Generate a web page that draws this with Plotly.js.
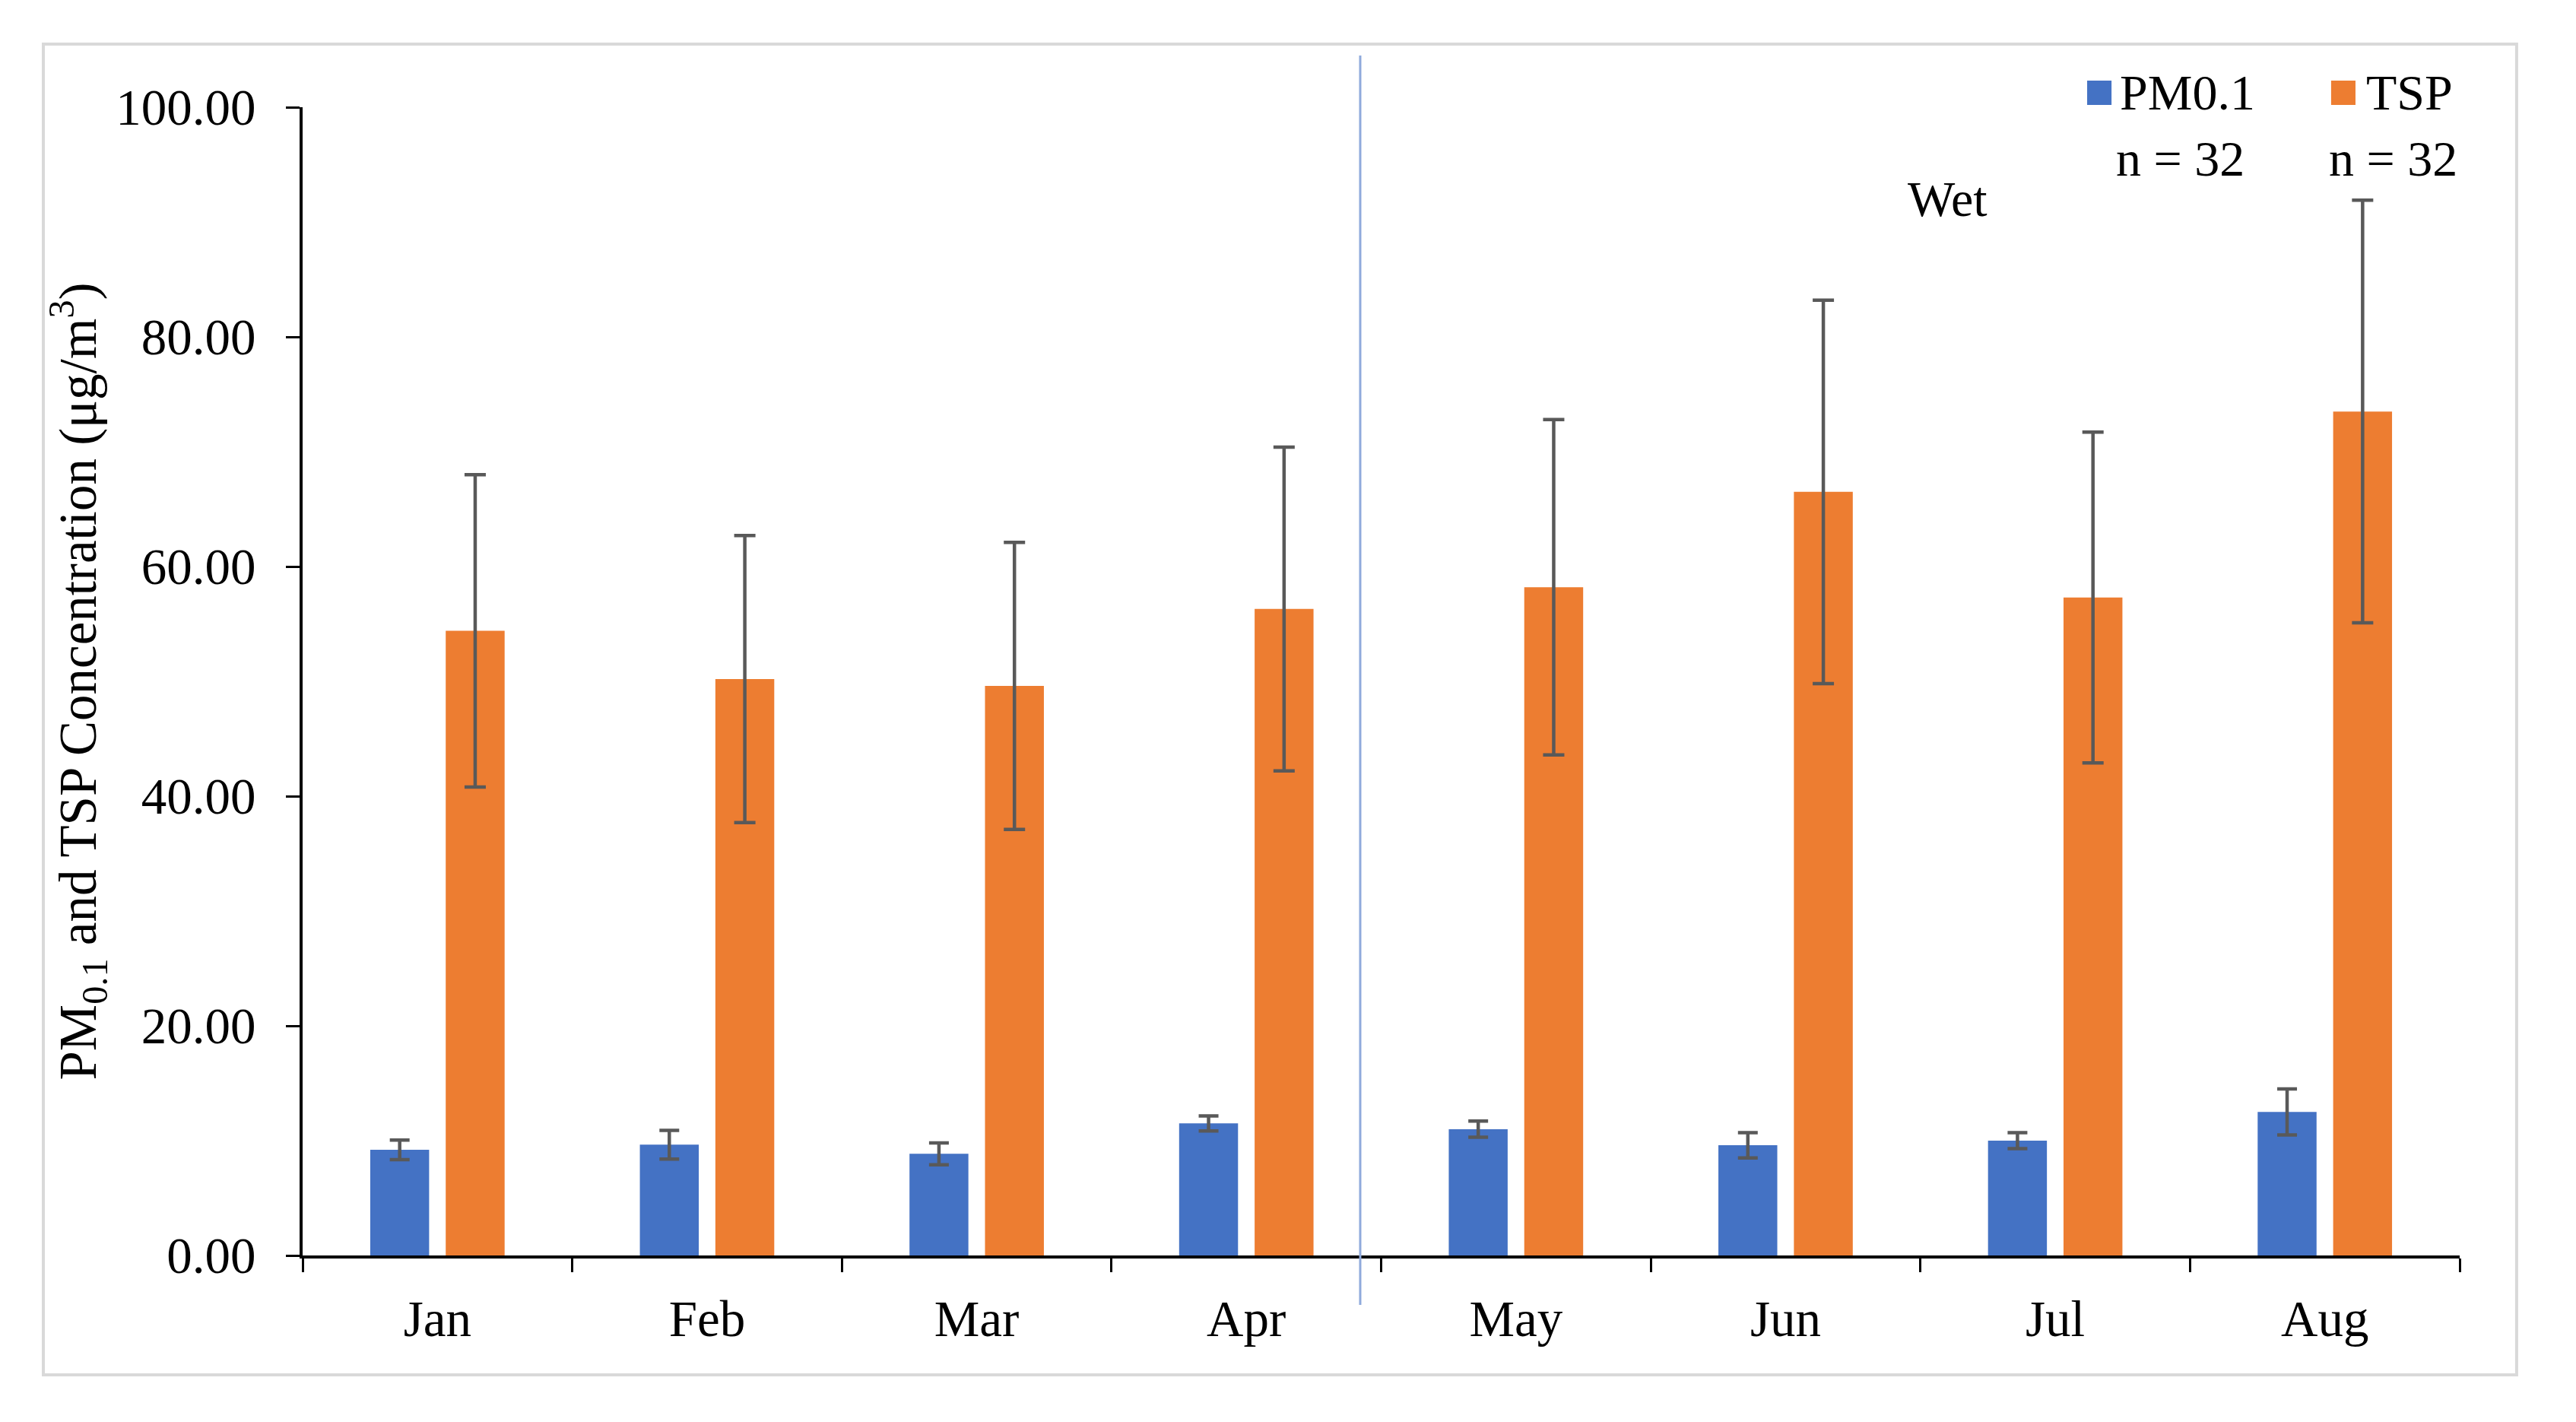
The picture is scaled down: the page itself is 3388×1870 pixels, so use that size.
<!DOCTYPE html>
<html>
<head>
<meta charset="utf-8">
<script src="https://cdn.plot.ly/plotly-3.0.1.min.js"></script>
<style>
  html, body { margin: 0; padding: 0; background: #ffffff; }
  #chart { width: 3388px; height: 1870px; }
</style>
</head>
<body>
<div id="chart"></div>
<script>
// ---- data ----
const months = ["Jan", "Feb", "Mar", "Apr", "May", "Jun", "Jul", "Aug"];
const pm01 = [9.2, 9.65, 8.85, 11.5, 11.0, 9.6, 10.0, 12.5];
const pm01Err = [0.85, 1.25, 0.95, 0.65, 0.7, 1.1, 0.7, 2.0];
const tsp = [54.4, 50.2, 49.6, 56.3, 58.2, 66.5, 57.3, 73.5];
const tspErr = [13.6, 12.5, 12.5, 14.1, 14.6, 16.7, 14.4, 18.4];
const seriesNames = ["PM0.1", "TSP"];
const sampleLabels = ["n = 32", "n = 32"];
const seasonLabel = "Wet";
const yTicks = [0, 20, 40, 60, 80, 100];

const FONT = "Liberation Serif, Times New Roman, serif";
const BLUE = "#4472C4";
const ORANGE = "#ED7D31";
const ERR = "#595959";

const traces = [
  {
    type: "bar", name: seriesNames[0], x: months, y: pm01,
    marker: { color: BLUE },
    error_y: { type: "data", array: pm01Err, visible: true, color: ERR, thickness: 4.5, width: 13 },
    showlegend: false
  },
  {
    type: "bar", name: seriesNames[1], x: months, y: tsp,
    marker: { color: ORANGE },
    error_y: { type: "data", array: tspErr, visible: true, color: ERR, thickness: 4.5, width: 14 },
    showlegend: false
  }
];

const layout = {
  width: 3388, height: 1870,
  margin: { l: 398, r: 153, t: 141, b: 219 },
  paper_bgcolor: "#ffffff", plot_bgcolor: "#ffffff",
  font: { family: FONT, size: 66, color: "#000000" },
  barmode: "group", bargap: 0.44, bargroupgap: 0.22,
  showlegend: false,
  xaxis: {
    type: "category", tickson: "boundaries",
    showline: true, linecolor: "#000000", linewidth: 4,
    ticks: "outside", ticklen: 18, tickwidth: 3, tickcolor: "#000000",
    showgrid: false, zeroline: false,
    tickfont: { family: FONT, size: 67, color: "#000000" },
    ticklabelstandoff: 22
  },
  yaxis: {
    range: [0, 100], tickvals: yTicks, tickformat: ".2f",
    showline: true, linecolor: "#000000", linewidth: 4,
    ticks: "outside", ticklen: 18, tickwidth: 3, tickcolor: "#000000",
    showgrid: false, zeroline: false,
    tickfont: { family: FONT, size: 67, color: "#000000" },
    ticklabelstandoff: 26,
    title: {
      text: "PM<sub>0.1</sub> and TSP Concentration (μg/m<sup>3</sup>)",
      font: { family: FONT, size: 69, color: "#000000" },
      standoff: 4
    }
  },
  shapes: [
    // outer frame
    { type: "rect", xref: "paper", yref: "paper", x0: -0.1202, x1: 1.0264, y0: -0.104, y1: 1.055,
      line: { color: "#d9d9d9", width: 4 }, fillcolor: "rgba(0,0,0,0)", layer: "below" },
    // season divider
    { type: "line", xref: "paper", yref: "paper", x0: 0.4903, x1: 0.4903, y0: -0.043, y1: 1.045,
      line: { color: "#8FAADC", width: 3 } },
    // legend swatches
    { type: "rect", xref: "paper", yref: "paper", x0: 0.8273, x1: 0.8386, y0: 1.002, y1: 1.0232,
      line: { width: 0 }, fillcolor: BLUE },
    { type: "rect", xref: "paper", yref: "paper", x0: 0.9404, x1: 0.9517, y0: 1.002, y1: 1.0232,
      line: { width: 0 }, fillcolor: ORANGE }
  ],
  annotations: [
    { xref: "paper", yref: "paper", x: 0.8417, y: 1.0126, xanchor: "left", yanchor: "middle",
      text: seriesNames[0], showarrow: false, font: { family: FONT, size: 66, color: "#000000" } },
    { xref: "paper", yref: "paper", x: 0.9559, y: 1.0126, xanchor: "left", yanchor: "middle",
      text: seriesNames[1], showarrow: false, font: { family: FONT, size: 66, color: "#000000" } },
    { xref: "paper", yref: "paper", x: 0.8706, y: 0.955, xanchor: "center", yanchor: "middle",
      text: sampleLabels[0], showarrow: false, font: { family: FONT, size: 66, color: "#000000" } },
    { xref: "paper", yref: "paper", x: 0.9693, y: 0.955, xanchor: "center", yanchor: "middle",
      text: sampleLabels[1], showarrow: false, font: { family: FONT, size: 66, color: "#000000" } },
    { xref: "paper", yref: "paper", x: 0.7627, y: 0.9205, xanchor: "center", yanchor: "middle",
      text: seasonLabel, showarrow: false, font: { family: FONT, size: 66, color: "#000000" } }
  ]
};

Plotly.newPlot("chart", traces, layout, { displayModeBar: false, staticPlot: true });
</script>
</body>
</html>
